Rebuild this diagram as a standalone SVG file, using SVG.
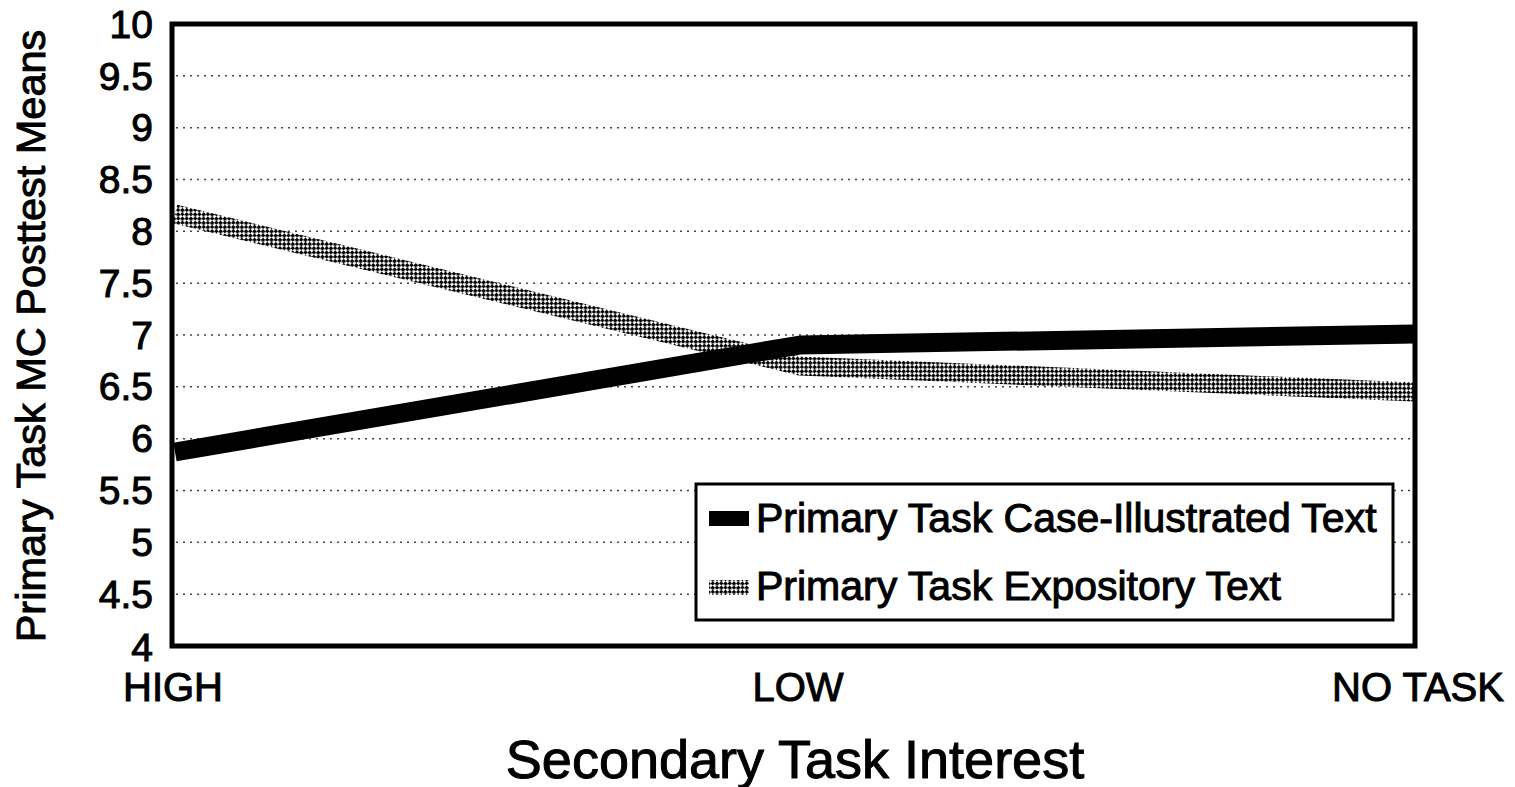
<svg xmlns="http://www.w3.org/2000/svg" width="1515" height="787" viewBox="0 0 1515 787">
<style>
text{font-family:"Liberation Sans",Arial,sans-serif;fill:#000;stroke:#000;stroke-width:1}
.yl{font-size:39px;text-anchor:end}
.xl{font-size:40px;text-anchor:middle}
.grid{stroke:#444;stroke-width:1.6;stroke-dasharray:2 5;fill:none}
.lg{font-size:41px}
</style>
<defs>
<pattern id="hatch" patternUnits="userSpaceOnUse" width="6" height="6" patternTransform="rotate(45)">
<rect width="6" height="6" fill="#fff"/>
<rect width="3.4" height="3.4" fill="#000"/>
<rect x="3" y="3" width="3.4" height="3.4" fill="#000"/>
</pattern>
</defs>
<g id="grid">
<line class="grid" x1="176" y1="75.8" x2="1412" y2="75.8"/>
<line class="grid" x1="176" y1="127.7" x2="1412" y2="127.7"/>
<line class="grid" x1="176" y1="179.5" x2="1412" y2="179.5"/>
<line class="grid" x1="176" y1="231.3" x2="1412" y2="231.3"/>
<line class="grid" x1="176" y1="283.2" x2="1412" y2="283.2"/>
<line class="grid" x1="176" y1="335" x2="1412" y2="335"/>
<line class="grid" x1="176" y1="386.8" x2="1412" y2="386.8"/>
<line class="grid" x1="176" y1="438.7" x2="1412" y2="438.7"/>
<line class="grid" x1="176" y1="490.5" x2="1412" y2="490.5"/>
<line class="grid" x1="176" y1="542.3" x2="1412" y2="542.3"/>
<line class="grid" x1="176" y1="594.2" x2="1412" y2="594.2"/>
</g>
<g id="y-axis-labels">
<text class="yl" x="153" y="38">10</text>
<text class="yl" x="153" y="90">9.5</text>
<text class="yl" x="153" y="141">9</text>
<text class="yl" x="153" y="193">8.5</text>
<text class="yl" x="153" y="245">8</text>
<text class="yl" x="153" y="297">7.5</text>
<text class="yl" x="153" y="349">7</text>
<text class="yl" x="153" y="400">6.5</text>
<text class="yl" x="153" y="452">6</text>
<text class="yl" x="153" y="504">5.5</text>
<text class="yl" x="153" y="556">5</text>
<text class="yl" x="153" y="608">4.5</text>
<text class="yl" x="153" y="661">4</text>
</g>
<g id="x-axis-labels">
<text class="xl" x="173" y="701">HIGH</text>
<text class="xl" x="798" y="701">LOW</text>
<text class="xl" x="1418" y="701">NO TASK</text>
</g>
<g id="connectors">
<polyline id="expository" points="175,214 800,366 1415,392" fill="none" stroke="url(#hatch)" stroke-width="19" stroke-linejoin="round"/>
<polyline id="case-illustrated" points="175,452 800,345 1415,334" fill="none" stroke="#000" stroke-width="19" stroke-linejoin="round"/>
</g>
<g id="frame">
<rect x="172" y="24" width="1243" height="622" fill="none" stroke="#000" stroke-width="5"/>
</g>
<g id="legend">
<rect x="696" y="484" width="697" height="136" fill="#fff" stroke="#000" stroke-width="3"/>
<rect x="709" y="511" width="40" height="15" fill="#000"/>
<text class="lg" x="756" y="532">Primary Task Case-Illustrated Text</text>
<rect x="709" y="580" width="40" height="15" fill="url(#hatch)"/>
<text class="lg" x="756" y="600">Primary Task Expository Text</text>
</g>
<g id="titles">
<text x="45" y="336" font-size="41.5" text-anchor="middle" transform="rotate(-90 45 336)">Primary Task MC Posttest Means</text>
<text x="795" y="778" font-size="54" text-anchor="middle">Secondary Task Interest</text>
</g>
</svg>
